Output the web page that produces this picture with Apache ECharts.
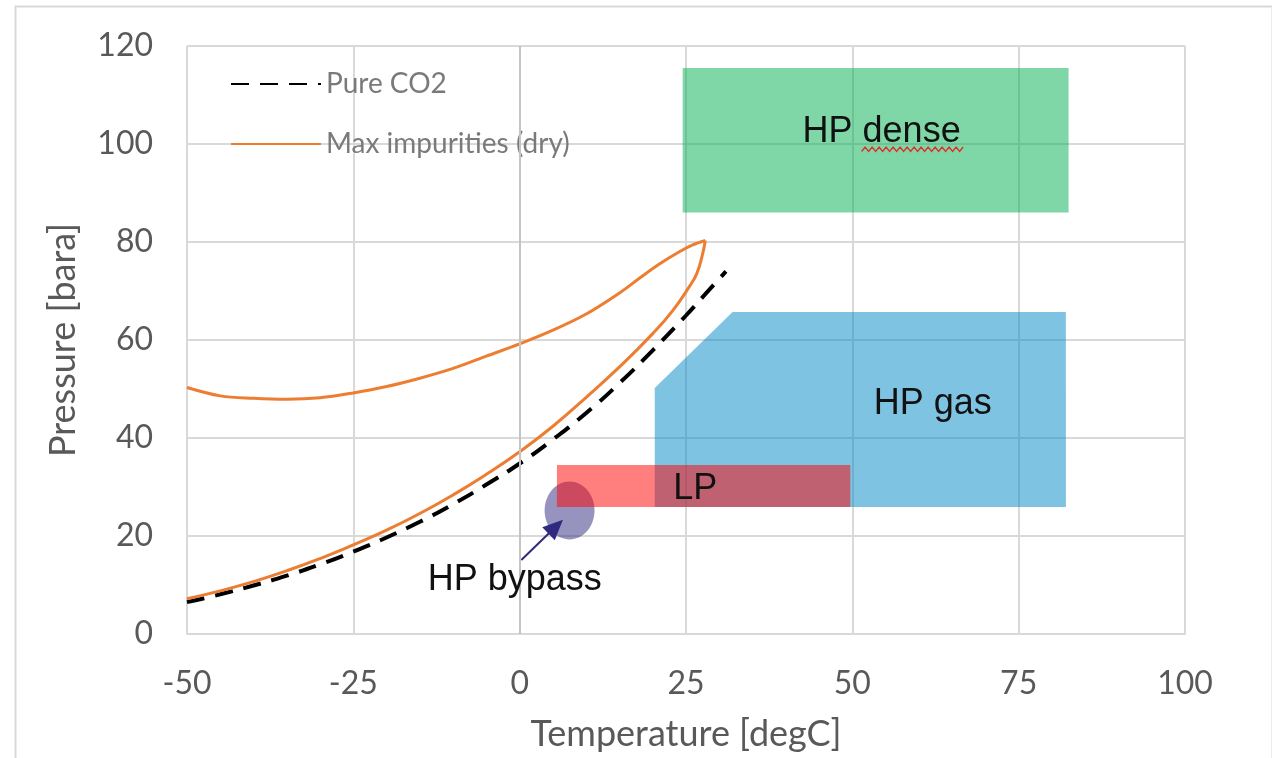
<!DOCTYPE html>
<html>
<head>
<meta charset="utf-8">
<script src="https://cdn.jsdelivr.net/npm/echarts@6/dist/echarts.min.js"></script>
<style>html,body{margin:0;padding:0;background:#fff;}#chart{width:1272px;height:758px;}</style>
</head>
<body>
<div id="chart"></div>
<script>
// ---- data ----
const xTicks = [-50, -25, 0, 25, 50, 75, 100];
const yTicks = [0, 20, 40, 60, 80, 100, 120];

const pureT = [-50, -45, -40, -35, -30, -25, -20, -15, -10, -5, 0, 5, 10, 15, 20, 25, 28, 31];
const pureP = [6.5, 8.1, 9.9, 11.9, 14.2, 16.8, 19.7, 22.9, 26.5, 30.5, 34.8, 39.7, 45.1, 51.2, 57.9, 65.0, 69.5, 74.0];

const bubbleT = [-50, -45, -40, -35, -30, -25, -20, -15, -10, -5, 0, 5, 10, 15, 20, 23, 25.5, 26.6, 27.4, 27.9];
const bubbleP = [7.2, 8.8, 10.7, 12.9, 15.4, 18.2, 21.2, 24.6, 28.4, 32.6, 37.2, 42.4, 48.3, 54.5, 61.3, 66.0, 70.9, 73.5, 77.0, 80.3];

const dewT = [27.9, 26, 24, 21, 18, 15, 10, 5, 0, -5, -10, -15, -20, -25, -30, -35, -40, -45, -50];
const dewP = [80.3, 79.4, 78.0, 75.5, 72.6, 69.6, 65.3, 62.0, 59.2, 56.7, 54.2, 52.2, 50.5, 49.2, 48.2, 47.9, 48.1, 48.6, 50.3];

const denseBox = [[24.5, 86], [82.5, 115.5]];            // [min corner, max corner]
const gasPoly = [[20.3, 25.9], [20.3, 50.2], [32, 65.7], [82.1, 65.7], [82.1, 25.9]];
const lpBox = [[5.6, 25.9], [49.7, 34.5]];
const bypassEllipse = [7.5, 25.2, 3.75, 5.9];          // cx, cy, rx, ry
const bypassArrow = [[0.25, 15.1], [6.5, 23.3]];       // from, to

const regionLabels = [
  {name: 'HP dense', pos: [54.4, 102.4], wavy: true},
  {name: 'HP gas', pos: [62.1, 46.9]},
  {name: 'LP', pos: [26.4, 29.6]},
  {name: 'HP bypass', pos: [-0.75, 11.0]}
];

const zip = (a, b) => a.map((v, i) => [v, b[i]]);

const chart = echarts.init(document.getElementById('chart'), null, {renderer: 'canvas'});

const axisFont = 'Lato, "Open Sans", sans-serif';
const annFont = '"Liberation Sans", Arial, sans-serif';

function boxSeries(box, color, z) {
  return {
    type: 'custom', coordinateSystem: 'cartesian2d', z: z, silent: true,
    data: box,
    renderItem: function (params, api) {
      if (params.dataIndex !== 0) return null;
      const p0 = api.coord(box[0]), p1 = api.coord(box[1]);
      return {type: 'rect', shape: {x: Math.min(p0[0], p1[0]), y: Math.min(p0[1], p1[1]),
        width: Math.abs(p1[0] - p0[0]), height: Math.abs(p1[1] - p0[1])}, style: {fill: color}};
    }
  };
}

const option = {
  animation: false,
  backgroundColor: '#ffffff',
  graphic: [{
    type: 'rect', left: 13, top: 4, shape: {width: 1257, height: 760},
    style: {fill: 'none', stroke: '#d9d9d9', lineWidth: 2}, silent: true, z: -10
  }],
  legend: {
    orient: 'vertical', left: 225, top: 65,
    itemWidth: 90, itemHeight: 14, itemGap: 32,
    itemStyle: {opacity: 0},
    textStyle: {fontFamily: axisFont, fontSize: 28, color: '#7a7a7a', padding: [0, 0, 0, 0]},
    data: ['Pure CO2', 'Max impurities (dry)']
  },
  grid: {left: 187, right: 87, top: 46, bottom: 124, containLabel: false},
  xAxis: {
    type: 'value', min: -50, max: 100, interval: 25,
    name: 'Temperature [degC]', nameLocation: 'middle', nameGap: 82,
    nameTextStyle: {fontFamily: axisFont, fontSize: 36, color: '#595959'},
    axisLine: {show: true, onZero: false, lineStyle: {color: '#d9d9d9', width: 2}},
    axisTick: {show: false},
    axisLabel: {fontFamily: axisFont, fontSize: 32, color: '#595959', margin: 34,
      formatter: v => xTicks.includes(v) ? String(v) : ''},
    splitLine: {show: true, lineStyle: {color: '#d9d9d9', width: 2}}
  },
  yAxis: {
    type: 'value', min: 0, max: 120, interval: 20,
    name: 'Pressure [bara]', nameLocation: 'middle', nameGap: 106, nameRotate: 90,
    nameTextStyle: {fontFamily: axisFont, fontSize: 36, color: '#595959'},
    axisLine: {show: true, lineStyle: {color: '#d9d9d9', width: 2}},
    axisTick: {show: false},
    axisLabel: {fontFamily: axisFont, fontSize: 32, color: '#595959', margin: 34,
      formatter: v => yTicks.includes(v) ? String(v) : ''},
    splitLine: {show: true, lineStyle: {color: '#d9d9d9', width: 2}}
  },
  series: [
    // zero line (slightly darker)
    {
      type: 'line', data: [], silent: true, z: 0,
      markLine: {silent: true, symbol: 'none', label: {show: false},
        lineStyle: {color: '#c4c4c4', width: 2, type: 'solid'}, data: [{xAxis: 0}]}
    },
    // HP bypass ellipse (below LP)
    {
      type: 'custom', coordinateSystem: 'cartesian2d', z: 1, silent: true,
      data: [bypassEllipse],
      renderItem: function (params, api) {
        const c = api.coord([bypassEllipse[0], bypassEllipse[1]]);
        const s = api.size([bypassEllipse[2], bypassEllipse[3]]);
        return {type: 'ellipse', shape: {cx: c[0], cy: c[1], rx: s[0], ry: s[1]},
          style: {fill: 'rgba(45,41,125,0.5)'}};
      }
    },
    boxSeries(denseBox, 'rgba(0,173,79,0.5)', 1),
    {
      type: 'custom', coordinateSystem: 'cartesian2d', z: 1, silent: true,
      data: gasPoly,
      renderItem: function (params, api) {
        if (params.dataIndex !== 0) return null;
        return {type: 'polygon', shape: {points: gasPoly.map(p => api.coord(p))},
          style: {fill: 'rgba(0,135,200,0.5)'}};
      }
    },
    boxSeries(lpBox, 'rgba(255,0,0,0.5)', 2),
    // arrow
    {
      type: 'custom', coordinateSystem: 'cartesian2d', z: 4, silent: true,
      data: bypassArrow,
      renderItem: function (params, api) {
        if (params.dataIndex !== 0) return null;
        const a = api.coord(bypassArrow[0]), b = api.coord(bypassArrow[1]);
        const dx = b[0] - a[0], dy = b[1] - a[1], L = Math.hypot(dx, dy);
        const ux = dx / L, uy = dy / L, hl = 20, hw = 9;
        const bx = b[0] - ux * hl, by = b[1] - uy * hl;
        return {type: 'group', children: [
          {type: 'line', shape: {x1: a[0], y1: a[1], x2: bx + ux * 2, y2: by + uy * 2},
            style: {stroke: '#2f2a80', lineWidth: 2}},
          {type: 'polygon', shape: {points: [[b[0], b[1]], [bx - uy * hw, by + ux * hw], [bx + uy * hw, by - ux * hw]]},
            style: {fill: '#2f2a80'}}
        ]};
      }
    },
    // region labels
    {
      type: 'custom', coordinateSystem: 'cartesian2d', z: 5, silent: true,
      data: regionLabels.map(r => r.pos),
      renderItem: function (params, api) {
        const r = regionLabels[params.dataIndex];
        const c = api.coord(r.pos);
        const children = [{type: 'text', x: c[0], y: c[1],
          style: {text: r.name, fontFamily: annFont, fontSize: 36, fill: '#111111',
            align: 'center', verticalAlign: 'middle'}}];
        if (r.wavy) {
          const pts = [];
          const x0 = c[0] - 20, x1 = c[0] + 82, yb = c[1] + 17;
          let k = 0;
          for (let x = x0; x <= x1; x += 3.5, k++) pts.push([x, yb + (k % 2 ? -2.2 : 2.2)]);
          children.push({type: 'polyline', shape: {points: pts},
            style: {stroke: '#e0302a', lineWidth: 1.4, fill: 'none'}});
        }
        return {type: 'group', children: children};
      }
    },
    {
      name: 'Pure CO2', type: 'line', z: 3, smooth: true, symbol: 'none',
      data: zip(pureT, pureP),
      lineStyle: {color: '#000000', width: 4, type: [18, 11]},
      itemStyle: {color: '#000000'}
    },
    {
      name: 'Max impurities (dry)', type: 'line', z: 3, smooth: true, symbol: 'none',
      data: zip(bubbleT, bubbleP),
      lineStyle: {color: '#ED7D31', width: 3},
      itemStyle: {color: '#ED7D31'}
    },
    {
      name: 'Max impurities (dry)', type: 'line', z: 3, smooth: 0.35, symbol: 'none',
      data: zip(dewT, dewP),
      lineStyle: {color: '#ED7D31', width: 3},
      itemStyle: {color: '#ED7D31'}
    }
  ]
};
chart.setOption(option);
</script>
</body>
</html>
